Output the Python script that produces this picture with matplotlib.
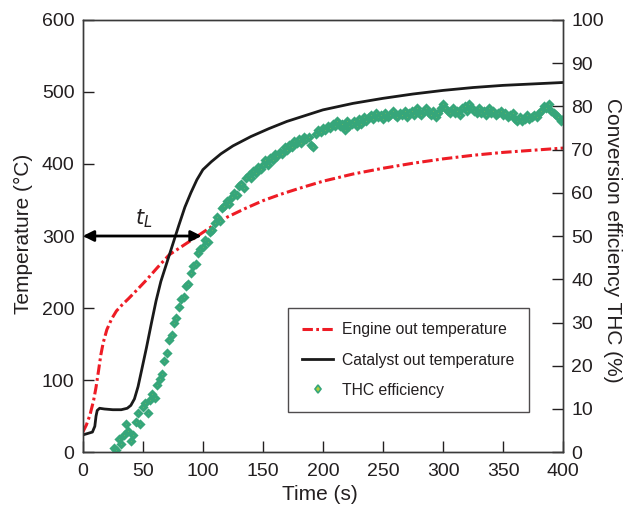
import numpy as np
import matplotlib

matplotlib.use("Agg")
import matplotlib.pyplot as plt

plt.rcParams["font.family"] = ["Liberation Sans", "DejaVu Sans"]

# engine out temperature (s, degC)
engine_t = [0, 3, 6, 9, 11, 13, 15, 17, 20, 24, 28, 33, 38, 45, 53, 62, 72, 82,
            92, 100, 110, 120, 135, 150, 165, 180, 200, 225, 250, 275, 300, 325,
            350, 375, 400]
engine_T = [28, 38, 52, 72, 90, 112, 135, 152, 170, 185, 196, 205, 213, 225, 239,
            256, 274, 285, 296, 305, 316, 326, 338, 349, 358, 366, 376, 386, 394,
            401, 407, 412, 416, 419, 422]

# catalyst out temperature (s, degC)
cat_t = [0, 4, 8, 10, 11, 12, 14, 18, 25, 32, 37, 40, 43, 46, 49, 53, 57, 61, 65,
         70, 75, 80, 85, 90, 95, 100, 107, 115, 125, 140, 155, 170, 185, 200, 225,
         250, 275, 300, 325, 350, 375, 400]
cat_T = [24, 26, 28, 36, 50, 58, 61, 60, 59, 59, 61, 65, 74, 91, 114, 145, 178,
         210, 237, 263, 289, 315, 340, 360, 378, 392, 403, 414, 425, 438, 449, 459,
         467, 475, 484, 491, 497, 502, 506, 509, 511, 513]

# THC conversion efficiency (%), sampled every 2 s from 26 s to 400 s
thc_t = np.arange(26, 401, 2)
thc_eff = [
    1, 0.5, 3, 2, 4, 6.5, 5, 2.5, 4, 7,
    9, 6.5, 10.5, 11.5, 9, 12, 13.5, 12.5, 15.5, 17,
    18, 21, 23, 26, 27, 30, 31, 33.5, 35.5, 36,
    38.5, 39, 41.5, 43, 43.5, 46, 47, 47.5, 49, 48.5,
    51, 51.5, 53, 54.5, 53.5, 56.5, 57, 58, 57.5, 59,
    60, 59.5, 61.5, 62, 61, 63.5, 64, 63.5, 65, 64.5,
    66, 65.5, 66.5, 67.5, 66.5, 68, 67.5, 69, 68.5, 69.5,
    69, 70.5, 70, 71, 70.5, 72, 71.5, 72.5, 71.5, 73,
    72.5, 73, 71, 70.5, 73.5, 74.5, 74, 75, 74.5, 75.5,
    75, 76, 75.5, 76.5, 75.5, 76, 74.5, 76.5, 75.5, 76,
    76.5, 75.5, 77, 76, 77.5, 76.5, 77.5, 78, 77, 78.5,
    77.5, 78, 77, 78.5, 77.5, 78, 79, 78, 77.5, 78.5,
    78, 79, 77.5, 78.5, 79, 78, 79.5, 78.5, 78, 79,
    79.5, 78.5, 78, 79, 77.5, 78.5, 79.5, 80.5, 79.5, 79,
    78.5, 79.5, 78.5, 79, 78, 79.5, 80, 79, 80.5, 79.5,
    79, 78.5, 79.5, 78.5, 79, 78, 79.5, 78.5, 79, 78,
    78.5, 79, 78, 78.5, 77.5, 78, 78.5, 77, 76.5, 77.5,
    76.5, 77, 78, 77, 77.5, 78, 77.5, 78.5, 79, 80,
    79.5, 80.5, 79, 78.5, 78, 77.5, 76.5, 77,
]

TXT = "#231f20"
GREEN_EDGE = "#36a67a"
GREEN_FACE = "#b4cf3a"

fig = plt.figure(figsize=(6.37, 5.07), dpi=100)
ax = fig.add_axes([0.130, 0.108, 0.754, 0.853])
ax2 = ax.twinx()

l1, = ax.plot(engine_t, engine_T, color="#ee1c25", lw=2.2,
              dashes=(3.4, 1.1, 0.9, 1.1), label="Engine out temperature")
l2, = ax.plot(cat_t, cat_T, color="#1a1a1a", lw=2.0,
              label="Catalyst out temperature")
l3, = ax2.plot(thc_t, thc_eff, ls="none", marker="D", ms=2.8,
               mfc=GREEN_FACE, mec=GREEN_EDGE, mew=2.4, label="THC efficiency")

ax.set_xlim(0, 400)
ax.set_ylim(0, 600)
ax2.set_ylim(0, 100)
ax.set_xticks(np.arange(0, 401, 50))
ax.set_yticks(np.arange(0, 601, 100))
ax2.set_yticks(np.arange(0, 101, 10))

for a in (ax, ax2):
    a.tick_params(direction="in", length=8, width=1, labelsize=14,
                  colors=TXT, pad=6)
    for s in a.spines.values():
        s.set_color("#3a3a3a")
        s.set_linewidth(1)
ax.tick_params(top=False, right=False)
ax.tick_params(axis="x", pad=8)

ax.set_xlabel("Time (s)", fontsize=15, color=TXT)
ax.set_ylabel("Temperature (\u00b0C)", fontsize=15, color=TXT)
ax2.set_ylabel("Conversion efficiency THC (%)", fontsize=15, color=TXT,
               rotation=270)
ax.xaxis.set_label_coords(0.494, -0.098)
ax.xaxis.label.set_va("center")
ax.yaxis.set_label_coords(-0.123, 0.505)
ax.yaxis.label.set_va("center")
ax2.yaxis.set_label_coords(1.102, 0.49)
ax2.yaxis.label.set_va("center")
ax2.yaxis.label.set_ha("center")

# light-off time arrow
ax.annotate("", xy=(0, 300), xytext=(99, 300),
            arrowprops=dict(arrowstyle="<|-|>", color="k", lw=2,
                            mutation_scale=16, shrinkA=0, shrinkB=0))
ax.text(51, 324, r"$t_L$", fontsize=15, ha="center", va="center", color=TXT)

# legend (on the twin axes so it sits above the markers)
mk = plt.Line2D([], [], ls="none", marker="d", ms=4.5, mfc=GREEN_FACE,
                mec=GREEN_EDGE, mew=1.2)
leg = ax2.legend([l1, l2, mk], [l1.get_label(), l2.get_label(), l3.get_label()],
                 loc="upper left", bbox_to_anchor=(0.427, 0.333), fontsize=11.3,
                 frameon=True, fancybox=False, edgecolor="#231f20",
                 handlelength=2.0, handletextpad=0.55, labelspacing=0.97,
                 borderpad=0.9, borderaxespad=0, numpoints=1)
leg.get_frame().set_linewidth(1)
for t in leg.get_texts():
    t.set_color(TXT)

fig.savefig("out.png", dpi=100)
